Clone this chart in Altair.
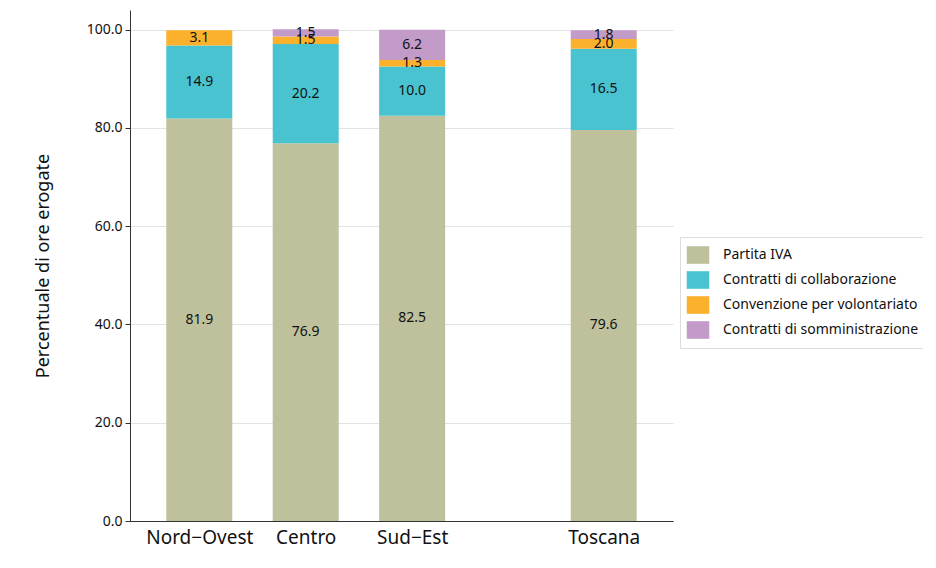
import altair as alt
import pandas as pd

regions = ["Nord−Ovest", "Centro", "Sud−Est", "Toscana"]
slots = [1, 2, 3, 4.8]
types = ["Partita IVA", "Contratti di collaborazione",
         "Convenzione per volontariato", "Contratti di somministrazione"]
colors = ["#BFC19D", "#49C3CF", "#FBB12B", "#C39BC8"]
partita_iva = [81.9, 76.9, 82.5, 79.6]
collaborazione = [14.9, 20.2, 10.0, 16.5]
volontariato = [3.1, 1.5, 1.3, 2.0]
somministrazione = [0.0, 1.5, 6.2, 1.8]
y_ticks = [0, 20, 40, 60, 80, 100]

series = [partita_iva, collaborazione, volontariato, somministrazione]
rows = []
for k, (t, vals) in enumerate(zip(types, series)):
    for r, s, v in zip(regions, slots, vals):
        rows.append({"regione": r, "slot": s, "tipo": t, "ord": k, "valore": v})
df = pd.DataFrame(rows)

label_expr = " : ".join(
    f"datum.value == {s} ? '{r}'" for s, r in zip(slots, regions)
) + " : ''"

FONT = "Noto Sans"

base = alt.Chart(df).transform_stack(
    stack="valore", groupby=["slot"], sort=[alt.SortField("ord")], as_=["y0", "y1"]
).transform_calculate(mid="(datum.y0 + datum.y1) / 2")

xenc = alt.X("slot:Q",
             scale=alt.Scale(domain=[0.396, 5.404], nice=False, zero=False),
             axis=alt.Axis(values=slots, labelExpr=label_expr, title=None,
                           grid=False, ticks=False, labelFontSize=19,
                           labelPadding=7, domainColor="#333", labelColor="#111",
                           labelFlush=False))

bars = base.mark_bar(size=66).encode(
    x=xenc,
    y=alt.Y("y0:Q", scale=alt.Scale(domain=[0, 104], nice=False),
            axis=alt.Axis(values=y_ticks, format=".1f",
                          title="Percentuale di ore erogate",
                          titleFontSize=18, titleFontWeight="normal",
                          titleColor="#111", titlePadding=34,
                          labelFontSize=14, labelColor="#111",
                          tickSize=5, tickColor="#333", domainColor="#333",
                          gridColor="#E2E2E2", labelPadding=3)),
    y2="y1:Q",
    color=alt.Color("tipo:N", scale=alt.Scale(domain=types, range=colors),
                    sort=types,
                    legend=alt.Legend(title=None, orient="none",
                                      legendX=550, legendY=227,
                                      symbolType="M-1.28,-1L1.28,-1L1.28,1L-1.28,1Z",
                                      symbolSize=310,
                                      symbolStrokeWidth=0, labelFontSize=14,
                                      labelColor="#111", rowPadding=7,
                                      labelLimit=0,
                                      strokeColor="#DDDDDD", padding=9,
                                      labelOffset=16)),
    order=alt.Order("ord:Q"),
)

labels = base.transform_filter("datum.valore > 0").mark_text(
    fontSize=14, color="#111", font=FONT, baseline="middle"
).encode(
    x=alt.X("slot:Q"),
    y=alt.Y("mid:Q"),
    text=alt.Text("valore:Q", format=".1f"),
)

chart = (bars + labels).properties(
    width=543, height=511,
    autosize=alt.AutoSizeParams(type="none"),
    padding={"left": 122, "top": 2, "right": 250, "bottom": 30},
).configure(font=FONT).configure_view(stroke=None)

chart.save("out.html", embed_options={"renderer": "svg", "actions": False})
